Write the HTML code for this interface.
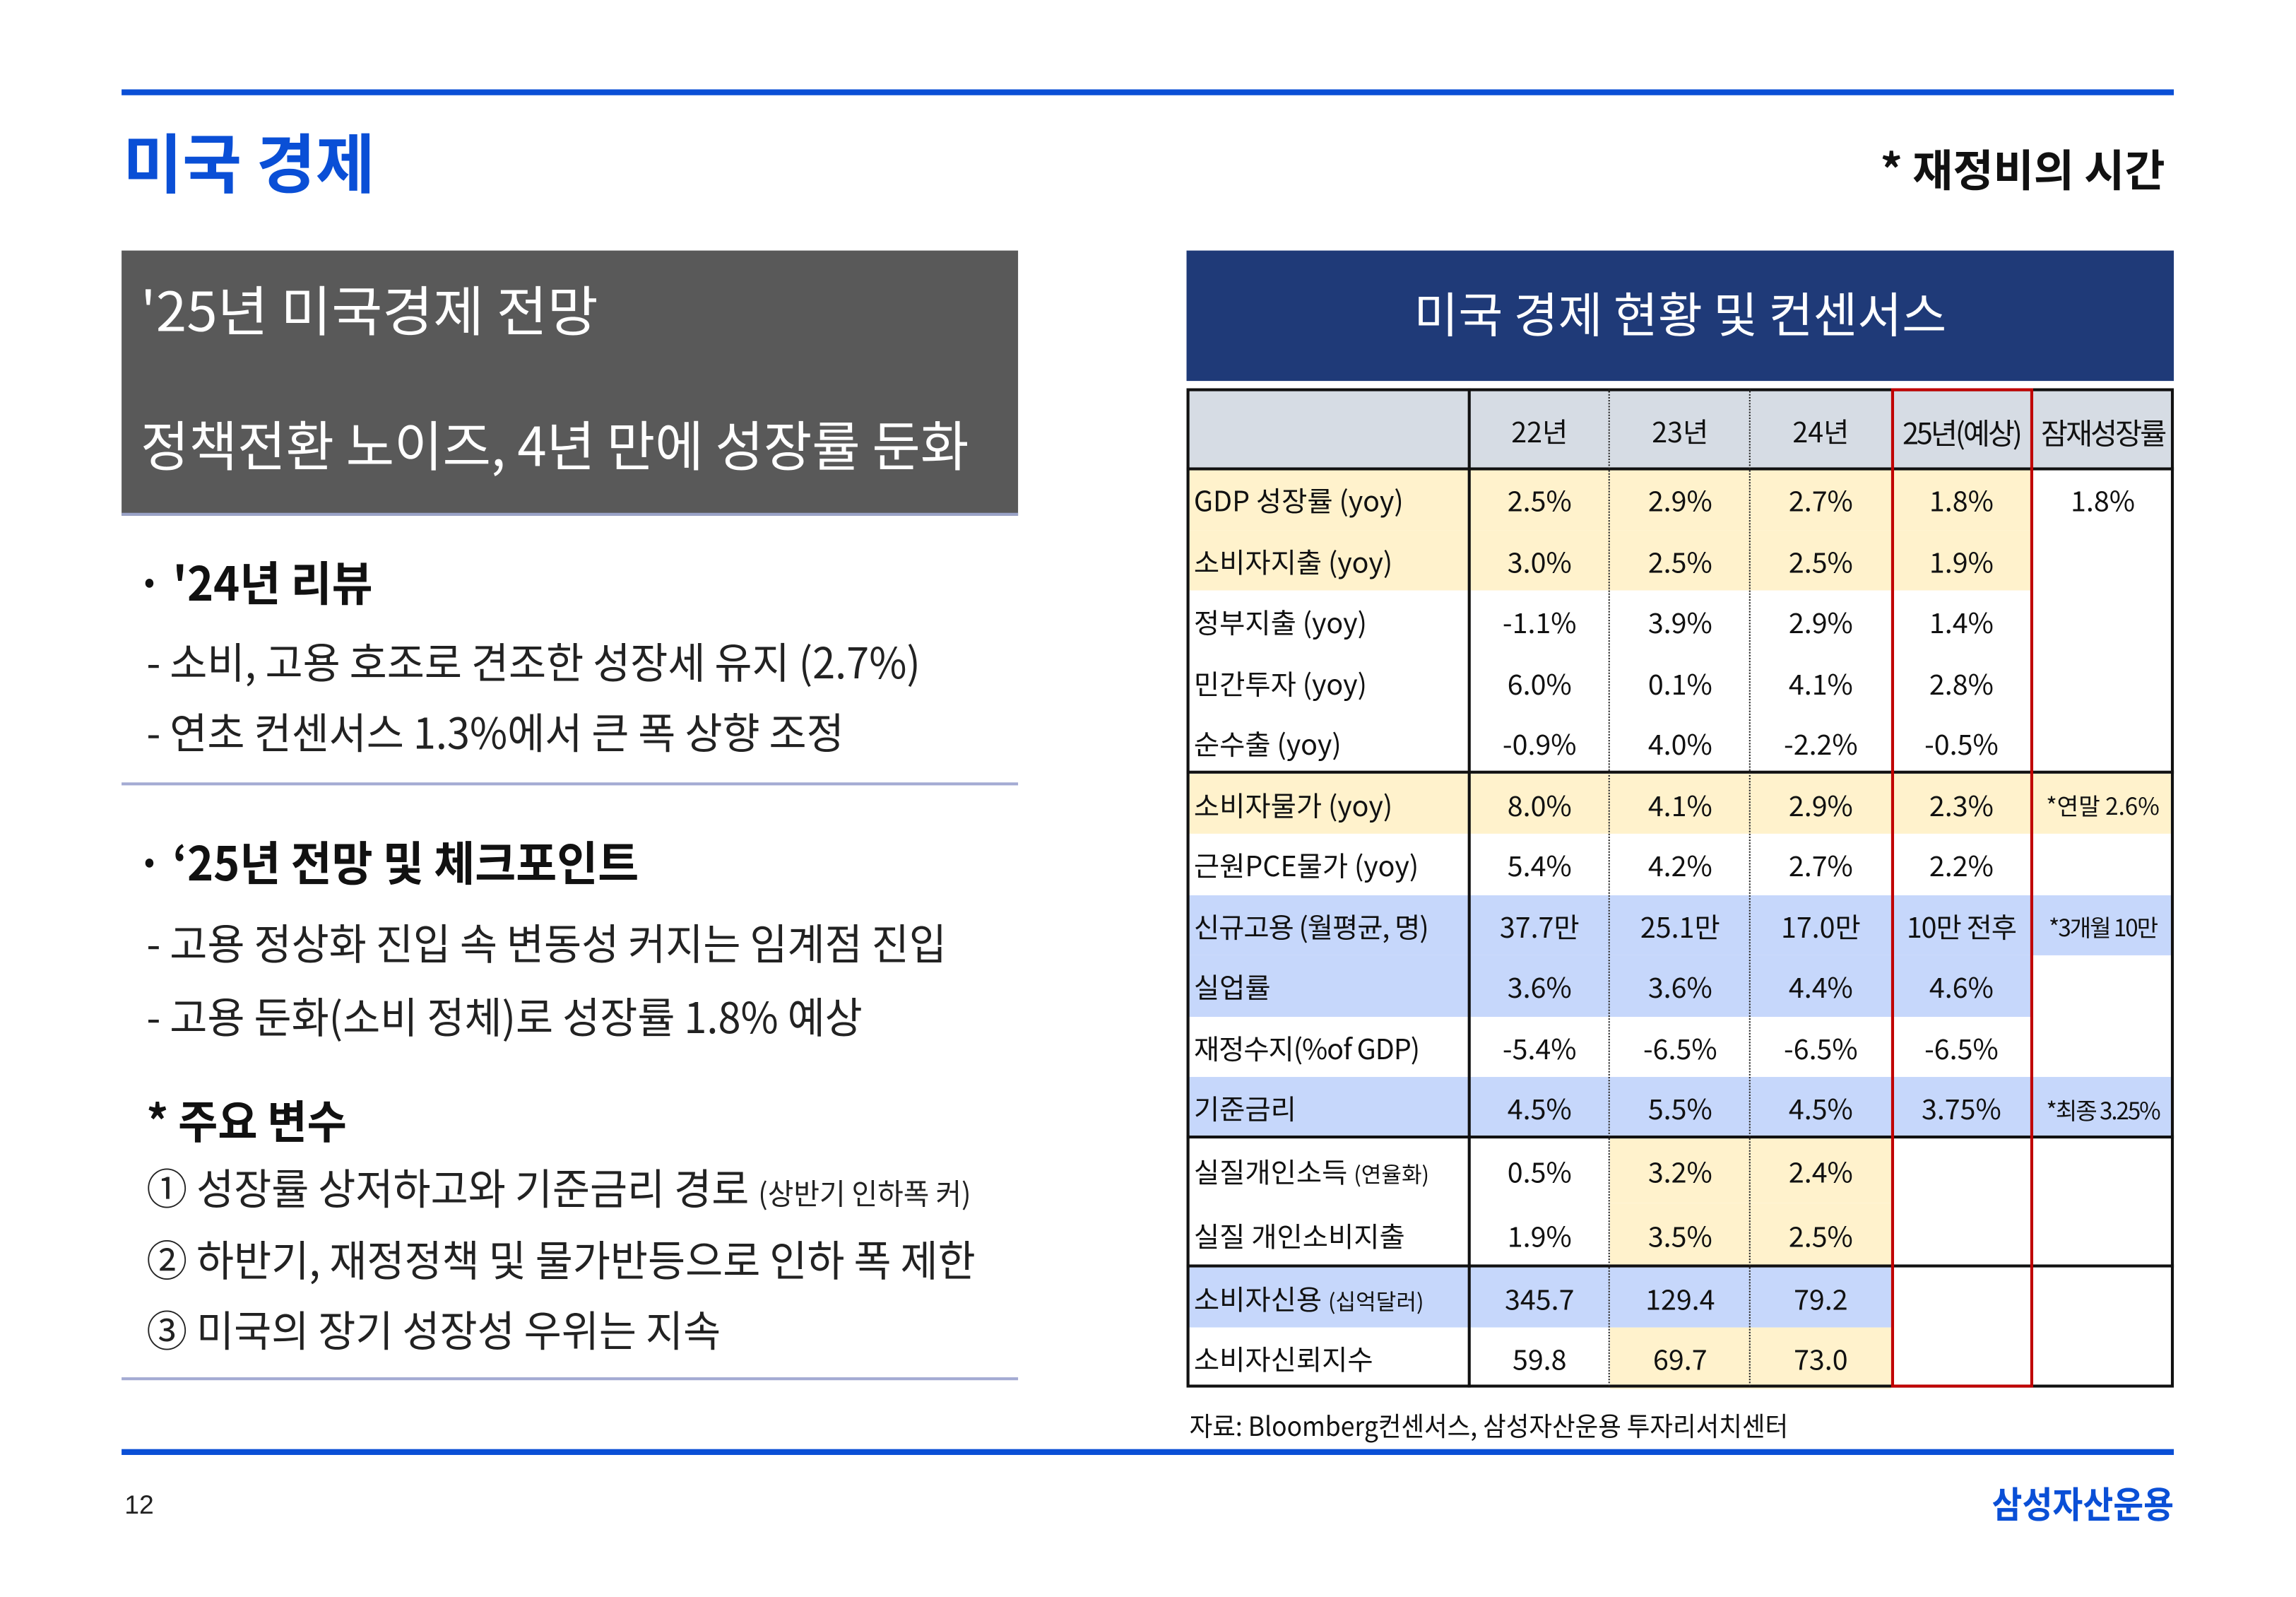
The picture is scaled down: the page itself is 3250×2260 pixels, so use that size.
<!DOCTYPE html>
<html><head><meta charset="utf-8"><style>
*{margin:0;padding:0;box-sizing:border-box}
body{width:3250px;height:2250px;background:#fff;overflow:hidden;font-family:"Liberation Sans","Noto Sans CJK KR",sans-serif}
#p{position:absolute;left:0;top:0;width:1570px;height:1090px;transform:scale(2.0735,2.0735);transform-origin:0 0}
.a{position:absolute;white-space:nowrap;line-height:1}
.k{font-family:"Noto Sans CJK KR","Liberation Sans",sans-serif}
.sx{display:inline-block;transform-origin:0 50%}
table{position:absolute;left:810px;top:266px;border-collapse:collapse;table-layout:fixed;font-family:"Noto Sans CJK KR",sans-serif;font-size:19px;color:#111}
td{height:41.5px;text-align:center;padding:0;padding-top:2px;white-space:nowrap;overflow:hidden;border:none}
td.l{text-align:left;padding-left:5px}
.y{background:#fff2cc}.b{background:#c6d7fb}.g{background:#d6dce4}
</style></head><body><div id="p">
<div class="a" style="left:83px;top:61px;width:1401px;height:4px;background:#0a4fd6"></div>
<div class="a k" style="left:84px;top:87px;font-size:44px;font-weight:700;color:#0a4fd6">미국 경제</div>
<div class="a k" style="right:92px;top:99px;font-size:30px;font-weight:700;color:#111">* 재정비의 시간</div>

<div class="a" style="left:83px;top:171px;width:612px;height:181px;background:#595959;border-bottom:2px solid #9aa3c8"></div>
<div class="a k" style="left:96px;top:192px;font-size:37px;color:#fff"><span class="sx" style="transform:scaleX(1.02)">'25년 미국경제 전망</span></div>
<div class="a k" style="left:96px;top:284px;font-size:37px;color:#fff"><span class="sx" style="transform:scaleX(.97)">정책전환 노이즈, 4년 만에 성장률 둔화</span></div>

<div class="a k" style="left:93px;top:381px;font-size:32px;font-weight:700;color:#111"><span class="sx" style="transform:scaleX(.95)">· '24년 리뷰</span></div>
<div class="a k" style="left:100px;top:437px;font-size:29px;color:#222"><span class="sx" style="transform:scaleX(.96)">- 소비, 고용 호조로 견조한 성장세 유지 (2.7%)</span></div>
<div class="a k" style="left:100px;top:485px;font-size:29px;color:#222"><span class="sx" style="transform:scaleX(.96)">- 연초 컨센서스 1.3%에서 큰 폭 상향 조정</span></div>
<div class="a" style="left:83px;top:534px;width:612px;height:2px;background:#a4abd3"></div>

<div class="a k" style="left:93px;top:572px;font-size:32px;font-weight:700;color:#111"><span class="sx" style="transform:scaleX(.95)">· ‘25년 전망 및 체크포인트</span></div>
<div class="a k" style="left:100px;top:629px;font-size:29px;color:#222"><span class="sx" style="transform:scaleX(.96)">- 고용 정상화 진입 속 변동성 커지는 임계점 진입</span></div>
<div class="a k" style="left:100px;top:679px;font-size:29px;color:#222"><span class="sx" style="transform:scaleX(.96)">- 고용 둔화(소비 정체)로 성장률 1.8% 예상</span></div>
<div class="a k" style="left:100px;top:748px;font-size:31px;font-weight:700;color:#111"><span class="sx" style="transform:scaleX(.95)">* 주요 변수</span></div>
<div class="a k" style="left:100px;top:796px;font-size:29px;color:#222"><span class="sx" style="transform:scaleX(.96)">① 성장률 상저하고와 기준금리 경로 <span style="font-size:20px">(상반기 인하폭 커)</span></span></div>
<div class="a k" style="left:100px;top:845px;font-size:29px;color:#222"><span class="sx" style="transform:scaleX(.96)">② 하반기, 재정정책 및 물가반등으로 인하 폭 제한</span></div>
<div class="a k" style="left:100px;top:893px;font-size:29px;color:#222"><span class="sx" style="transform:scaleX(.96)">③ 미국의 장기 성장성 우위는 지속</span></div>
<div class="a" style="left:83px;top:940px;width:612px;height:2px;background:#a4abd3"></div>

<div class="a" style="left:810px;top:171px;width:674px;height:89px;background:#1f3a78"></div>
<div class="a k" style="left:810px;top:197px;width:674px;text-align:center;font-size:33px;color:#fff">미국 경제 현황 및 컨센서스</div>

<table>
<colgroup><col style="width:193px"><col style="width:96px"><col style="width:96px"><col style="width:96px"><col style="width:96px"><col style="width:97px"></colgroup>
<tr style="height:54px"><td class="g" style="height:54px"></td><td class="g">22년</td><td class="g">23년</td><td class="g">24년</td><td class="g" style="font-size:20px;letter-spacing:-1.5px">25년(예상)</td><td class="g" style="font-size:20px;letter-spacing:-1.5px">잠재성장률</td></tr>
<tr><td class="l y">GDP 성장률 (yoy)</td><td class="y">2.5%</td><td class="y">2.9%</td><td class="y">2.7%</td><td class="y">1.8%</td><td>1.8%</td></tr>
<tr><td class="l y">소비자지출 (yoy)</td><td class="y">3.0%</td><td class="y">2.5%</td><td class="y">2.5%</td><td class="y">1.9%</td><td></td></tr>
<tr><td class="l">정부지출 (yoy)</td><td>-1.1%</td><td>3.9%</td><td>2.9%</td><td>1.4%</td><td></td></tr>
<tr><td class="l">민간투자 (yoy)</td><td>6.0%</td><td>0.1%</td><td>4.1%</td><td>2.8%</td><td></td></tr>
<tr><td class="l">순수출 (yoy)</td><td>-0.9%</td><td>4.0%</td><td>-2.2%</td><td>-0.5%</td><td></td></tr>
<tr><td class="l y">소비자물가 (yoy)</td><td class="y">8.0%</td><td class="y">4.1%</td><td class="y">2.9%</td><td class="y">2.3%</td><td class="y" style="font-size:16px">*연말 2.6%</td></tr>
<tr><td class="l">근원PCE물가 (yoy)</td><td>5.4%</td><td>4.2%</td><td>2.7%</td><td>2.2%</td><td></td></tr>
<tr><td class="l b" style="letter-spacing:-0.5px">신규고용 (월평균, 명)</td><td class="b">37.7만</td><td class="b">25.1만</td><td class="b">17.0만</td><td class="b" style="letter-spacing:-0.5px">10만 전후</td><td class="b" style="font-size:16px;letter-spacing:-1px">*3개월 10만</td></tr>
<tr><td class="l b">실업률</td><td class="b">3.6%</td><td class="b">3.6%</td><td class="b">4.4%</td><td class="b">4.6%</td><td></td></tr>
<tr><td class="l" style="letter-spacing:-0.5px">재정수지(%of GDP)</td><td>-5.4%</td><td>-6.5%</td><td>-6.5%</td><td>-6.5%</td><td></td></tr>
<tr><td class="l b">기준금리</td><td class="b">4.5%</td><td class="b">5.5%</td><td class="b">4.5%</td><td class="b">3.75%</td><td class="b" style="font-size:16px;letter-spacing:-1px">*최종 3.25%</td></tr>
<tr><td class="l" style="height:44px">실질개인소득 <span style="font-size:15px">(연율화)</span></td><td>0.5%</td><td class="y">3.2%</td><td class="y">2.4%</td><td></td><td></td></tr>
<tr><td class="l" style="height:44px">실질 개인소비지출</td><td>1.9%</td><td class="y">3.5%</td><td class="y">2.5%</td><td></td><td></td></tr>
<tr><td class="l b" style="height:41px">소비자신용 <span style="font-size:15px">(십억달러)</span></td><td class="b">345.7</td><td class="b">129.4</td><td class="b">79.2</td><td></td><td></td></tr>
<tr><td class="l" style="height:41px">소비자신뢰지수</td><td>59.8</td><td class="y">69.7</td><td class="y">73.0</td><td></td><td></td></tr>
</table>
<div class="a" style="left:810px;top:265px;width:674px;height:682px;border:2px solid #111"></div>
<div class="a" style="left:810px;top:319px;width:674px;height:2px;background:#111"></div>
<div class="a" style="left:810px;top:526px;width:674px;height:2px;background:#111"></div>
<div class="a" style="left:810px;top:775px;width:674px;height:2px;background:#111"></div>
<div class="a" style="left:810px;top:863px;width:674px;height:2px;background:#111"></div>
<div class="a" style="left:1002px;top:265px;width:2px;height:682px;background:#111"></div>
<div class="a" style="left:1098px;top:266px;width:0;height:680px;border-left:1.5px dotted #222"></div>
<div class="a" style="left:1194px;top:266px;width:0;height:680px;border-left:1.5px dotted #222"></div>
<div class="a" style="left:1291px;top:265px;width:97px;height:682px;border:2px solid #c00000"></div>

<div class="a k" style="left:812px;top:964px;font-size:18px;color:#111"><span class="sx" style="transform:scaleX(.95)">자료: Bloomberg컨센서스, 삼성자산운용 투자리서치센터</span></div>
<div class="a" style="left:83px;top:989px;width:1401px;height:4px;background:#0a4fd6"></div>
<div class="a" style="left:85px;top:1018px;font-size:18px;color:#222">12</div>
<div class="a k" style="right:86px;top:1014px;font-size:25px;font-weight:700;color:#0a4fd6"><span class="sx" style="transform:scaleX(.9);transform-origin:100% 50%">삼성자산운용</span></div>
</div></body></html>
